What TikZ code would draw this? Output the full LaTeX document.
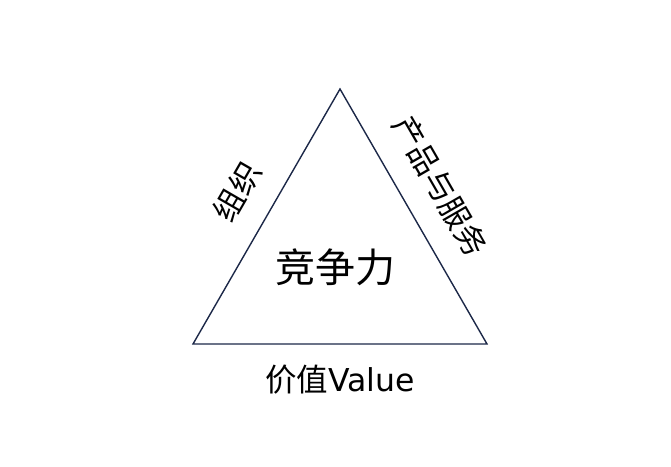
\documentclass[tikz,border=0pt]{standalone}
\usepackage{fontspec}
\setmainfont{DejaVu Sans}
\newfontfamily\cjk{Noto Sans CJK SC}
\definecolor{edgenavy}{RGB}{28,40,72}
\begin{document}
\begin{tikzpicture}[x=1pt,y=-1pt,
  edge/.style={draw=edgenavy,line width=1.4pt,line join=miter},
  lbl/.style={inner sep=0pt,font=\cjk\fontsize{31}{31}\selectfont}]
\useasboundingbox (0,0) rectangle (671,466);
\coordinate (t) at (340,89);
\coordinate (bl) at (193,344);
\coordinate (br) at (487,344);
\draw[edge] (t) -- (bl) -- (br) -- cycle;
\node[inner sep=0pt,font=\cjk\fontsize{40}{40}\selectfont] (core) at (335,267) {竞争力};
\node[lbl,rotate=60] (org) at (237,192) {组织};
\node[lbl,rotate=-60] (prod) at (440,186) {产品与服务};
\node[inner sep=0pt,font=\fontsize{31.5}{31.5}\selectfont] (val) at (340,380) {{\cjk 价值}Value};
\end{tikzpicture}
\end{document}
